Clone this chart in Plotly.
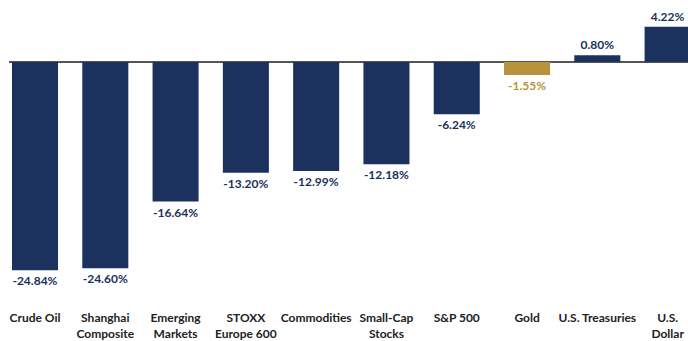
import plotly.graph_objects as go

categories = ["Crude Oil", "Shanghai<br>Composite", "Emerging<br>Markets", "STOXX<br>Europe 600",
              "Commodities", "Small-Cap<br>Stocks", "S&P 500", "Gold", "U.S. Treasuries", "U.S.<br>Dollar"]
values = [-24.84, -24.60, -16.64, -13.20, -12.99, -12.18, -6.24, -1.55, 0.80, 4.22]

NAVY = "#1b315e"
GOLD = "#b8923c"
colors = [GOLD if c == "Gold" else NAVY for c in categories]

fig = go.Figure(go.Bar(
    x=categories, y=values,
    marker=dict(color=colors, line=dict(width=0)),
    texttemplate="%{y:.2f}%", textposition="outside",
    textfont=dict(family="Lato", size=12, color=colors),
    cliponaxis=False,
))

fig.update_layout(
    width=688, height=341,
    margin=dict(l=9, r=0, t=0, b=40),
    paper_bgcolor="white", plot_bgcolor="white",
    bargap=0.345, showlegend=False,
    font=dict(family="Lato", size=12, color="#222222"),
    xaxis=dict(range=[-0.37, 9.29], showgrid=False, showline=False, ticks="",
               ticklabelstandoff=8, tickangle=0, automargin=False,
               tickfont=dict(family="Lato", size=12, color="#222222", weight="bold")),
    yaxis=dict(range=[-28.5, 7.4], showgrid=False, showticklabels=False, showline=False,
               automargin=False,
               zeroline=True, zerolinecolor="#555555", zerolinewidth=1.5),
)
fig.update_traces(textfont_weight="bold")

fig.write_html("out.html")
